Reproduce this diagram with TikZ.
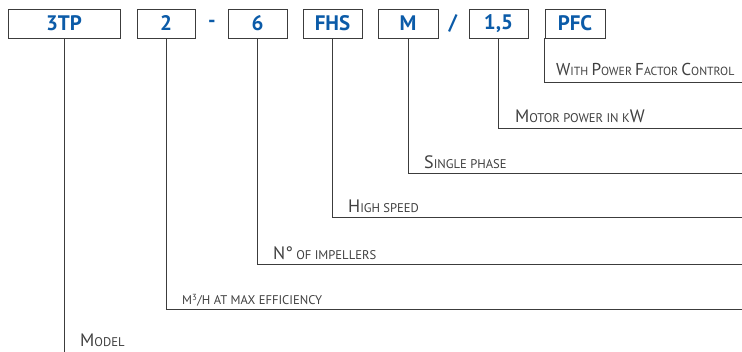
\documentclass[tikz,border=0pt]{standalone}
\usepackage{fontspec}
\setmainfont{PT Sans}
\definecolor{codeblue}{HTML}{0B5BA8}
\definecolor{txtgray}{HTML}{404040}
\definecolor{linegray}{HTML}{3C3C3C}
\newcommand\Cap[1]{{\fontsize{18}{18}\selectfont #1}}
\newcommand\CapS[1]{{\fontsize{17.2}{17.2}\selectfont #1}}
\begin{document}
\begin{tikzpicture}[x=1pt,y=-1pt,
  codebox/.style={draw=linegray,line width=0.9pt,minimum height=29pt,inner sep=0pt,
    font=\fontsize{21}{21}\selectfont\bfseries,text=codeblue},
  sep/.style={font=\fontsize{21}{21}\selectfont\bfseries,text=codeblue,inner sep=0pt},
  lbl/.style={anchor=base west,inner sep=0pt,text=txtgray,font=\fontsize{12.6}{12.6}\selectfont},
  conn/.style={draw=linegray,line width=1pt}]
\useasboundingbox (0,0) rectangle (742,352);
\node[codebox,minimum width=112pt] (b3tp) at (64,23.5) {3TP};
\node[codebox,minimum width=58pt] (b2) at (166,23.5) {2};
\node[sep] (dash) at (212,23.5) {-};
\node[codebox,minimum width=59pt] (b6) at (257.5,23.5) {6};
\node[codebox,minimum width=59pt] (bfhs) at (332.5,23.5) {FHS};
\node[codebox,minimum width=60pt] (bm) at (408,23.5) {M};
\node[sep] (slash) at (453,23.5) {/};
\node[codebox,minimum width=59pt] (b15) at (498.5,23.5) {1,5};
\node[codebox,minimum width=60pt] (bpfc) at (575,23.5) {PFC};
\coordinate (e1) at (742,83);
\coordinate (e2) at (742,129);
\coordinate (e3) at (742,174);
\coordinate (e4) at (742,218);
\coordinate (e5) at (742,265);
\coordinate (e6) at (742,310);
\coordinate (e7) at (0,352);
\draw[conn] (bpfc.south west) |- (e1);
\draw[conn] (b15.south) |- (e2);
\draw[conn] (bm.south) |- (e3);
\draw[conn] (bfhs.south) |- (e4);
\draw[conn] (b6.south) |- (e5);
\draw[conn] (b2.south) |- (e6);
\draw[conn] (b3tp.south) -- (b3tp.south |- e7);
\node[lbl,font=\fontsize{11.8}{11.8}\selectfont] (l1) at (556,76) {\CapS{W}ITH \CapS{P}OWER \CapS{F}ACTOR \CapS{C}ONTROL};
\node[lbl] (l2) at (515,123) {\Cap{M}OTOR POWER IN K\Cap{W}};
\node[lbl] (l3) at (424,169) {\Cap{S}INGLE PHASE};
\node[lbl] (l4) at (348,213) {\Cap{H}IGH SPEED};
\node[lbl] (l5) at (273,260) {\Cap{N°} OF IMPELLERS};
\node[lbl] (l6) at (182,305) {M\textsuperscript{3}/H AT MAX EFFICIENCY};
\node[lbl] (l7) at (80,347) {\Cap{M}ODEL};
\end{tikzpicture}
\end{document}
